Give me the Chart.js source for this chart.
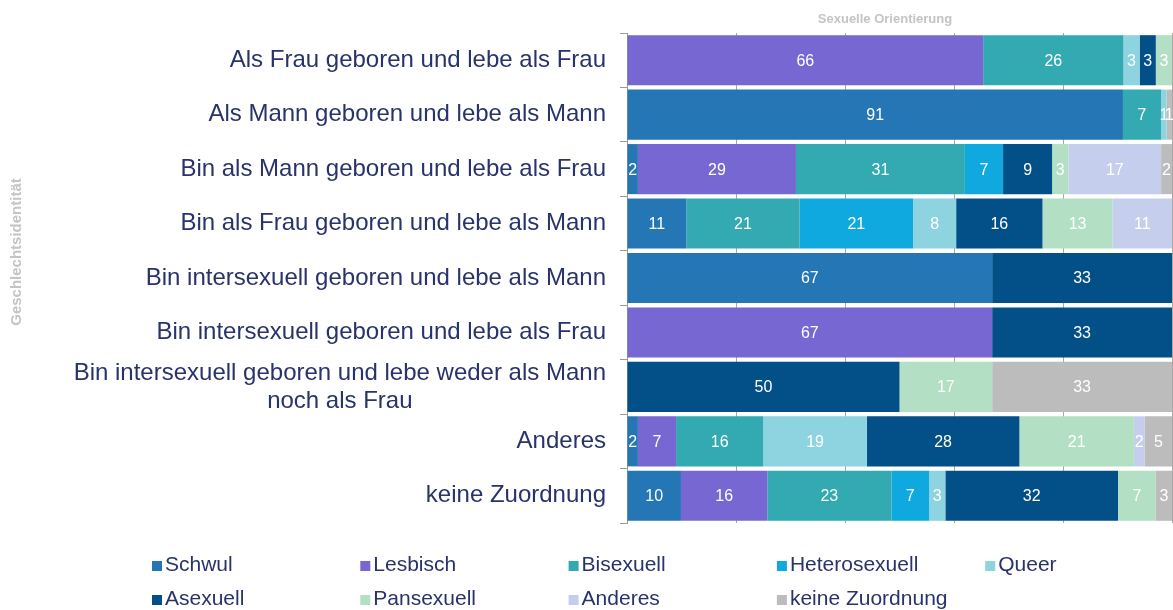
<!DOCTYPE html>
<html>
<head>
<meta charset="utf-8">
<script src="https://cdn.jsdelivr.net/npm/chart.js@4.4.0/dist/chart.umd.min.js"></script>
<style>
  html, body { margin: 0; padding: 0; background: #fff; }
  #wrap { width: 1173px; height: 610px; }
</style>
</head>
<body>
<div id="wrap"><canvas id="orientChart"></canvas></div>
<script>
const categories = [
  "Als Frau geboren und lebe als Frau",
  "Als Mann geboren und lebe als Mann",
  "Bin als Mann geboren und lebe als Frau",
  "Bin als Frau geboren und lebe als Mann",
  "Bin intersexuell geboren und lebe als Mann",
  "Bin intersexuell geboren und lebe als Frau",
  ["Bin intersexuell geboren und lebe weder als Mann", "noch als Frau"],
  "Anderes",
  "keine Zuordnung"
];

const seriesNames = ["Schwul", "Lesbisch", "Bisexuell", "Heterosexuell", "Queer",
  "Asexuell", "Pansexuell", "Anderes", "keine Zuordnung"];

// percentages per row (as printed in the bars)
const schwul        = [0, 91, 2, 11, 67, 0, 0, 2, 10];
const lesbisch      = [66, 0, 29, 0, 0, 67, 0, 7, 16];
const bisexuell     = [26, 7, 31, 21, 0, 0, 0, 16, 23];
const heterosexuell = [0, 0, 7, 21, 0, 0, 0, 0, 7];
const queer         = [3, 1, 0, 8, 0, 0, 0, 19, 3];
const asexuell      = [3, 0, 9, 16, 33, 33, 50, 28, 32];
const pansexuell    = [3, 0, 3, 13, 0, 0, 17, 21, 7];
const anderes       = [0, 0, 17, 11, 0, 0, 0, 2, 0];
const keineZuordnung = [0, 1, 2, 0, 0, 0, 33, 5, 3];

const xTicks = [0, 20, 40, 60, 80, 100];

const series = [schwul, lesbisch, bisexuell, heterosexuell, queer, asexuell, pansexuell, anderes, keineZuordnung];
const colors = ["#2476b4", "#7767d3", "#33aab2", "#0fa9e0", "#8dd3e0", "#034f87", "#b3e0c4", "#c6ceee", "#bcbcbc"];

const navy = "#28336b";
const titleGrey = "#c4c4c4";

// rows are drawn as 100% stacked, so scale each row by its own sum
const rowSums = categories.map((c, j) => series.reduce((s, arr) => s + arr[j], 0));

const datasets = series.map((arr, i) => ({
  label: seriesNames[i],
  data: arr.map((v, j) => v / rowSums[j] * 100),
  backgroundColor: colors[i],
  borderWidth: 0,
  barPercentage: 0.92,
  categoryPercentage: 1.0,
}));

const segmentLabels = {
  id: "segmentLabels",
  afterDatasetsDraw(chart) {
    const ctx = chart.ctx;
    const area = chart.chartArea;
    ctx.save();
    ctx.font = "16px 'Liberation Sans', Arial, sans-serif";
    ctx.fillStyle = "#ffffff";
    ctx.textAlign = "center";
    ctx.textBaseline = "middle";
    chart.data.datasets.forEach((ds, i) => {
      const meta = chart.getDatasetMeta(i);
      meta.data.forEach((bar, j) => {
        const v = series[i][j];
        if (!v) return;
        const p = bar.getProps(["x", "y", "base"], true);
        const cx = (Math.min(p.x, area.right) + p.base) / 2;
        ctx.fillText(String(v), cx, p.y + 1);
      });
    });
    ctx.restore();
  }
};

const sideText = {
  id: "sideText",
  afterDraw(chart) {
    const ctx = chart.ctx;
    const yScale = chart.scales.y;
    const area = chart.chartArea;
    ctx.save();

    // category labels
    ctx.font = "24px 'Liberation Sans', Arial, sans-serif";
    ctx.fillStyle = navy;
    ctx.textBaseline = "middle";
    const rightEdge = area.left - 21;
    categories.forEach((label, j) => {
      const y = yScale.getPixelForValue(j);
      if (Array.isArray(label)) {
        const widest = Math.max(...label.map(l => ctx.measureText(l).width));
        const cx = rightEdge - widest / 2;
        const lh = 28;
        const y0 = y - lh * (label.length - 1) / 2;
        ctx.textAlign = "center";
        label.forEach((l, k) => ctx.fillText(l, cx, y0 + k * lh));
      } else {
        ctx.textAlign = "right";
        ctx.fillText(label, rightEdge, y);
      }
    });

    // axis titles
    ctx.font = "bold 13px 'Liberation Sans', Arial, sans-serif";
    ctx.fillStyle = titleGrey;
    ctx.textAlign = "center";
    ctx.fillText("Sexuelle Orientierung", 885, 19);
    ctx.font = "bold 15px 'Liberation Sans', Arial, sans-serif";
    ctx.save();
    ctx.translate(17, 252);
    ctx.rotate(-Math.PI / 2);
    ctx.fillText("Geschlechtsidentität", 0, 0);
    ctx.restore();

    // legend, five fixed columns
    ctx.font = "21px 'Liberation Sans', Arial, sans-serif";
    ctx.textAlign = "left";
    seriesNames.forEach((name, i) => {
      const col = i % 5;
      const row = Math.floor(i / 5);
      const x = 152 + col * 208.3;
      const y = 565 + row * 34;
      ctx.fillStyle = colors[i];
      ctx.fillRect(x, y - 4, 10, 10);
      ctx.fillStyle = navy;
      ctx.fillText(name, x + 13, y);
    });
    ctx.restore();
  }
};

new Chart(document.getElementById("orientChart"), {
  type: "bar",
  data: { labels: categories, datasets: datasets },
  options: {
    indexAxis: "y",
    responsive: true,
    maintainAspectRatio: false,
    animation: false,
    layout: { padding: { left: 0, right: 1, top: 0, bottom: 87 } },
    scales: {
      x: {
        position: "top",
        stacked: true,
        min: xTicks[0],
        max: xTicks[xTicks.length - 1],
        afterBuildTicks: s => { s.ticks = xTicks.map(v => ({ value: v })); },
        ticks: { display: false },
        grid: { color: "#a8a8a8", drawTicks: false },
        border: { display: false },
        afterFit: s => { s.height = 33; },
      },
      y: {
        stacked: true,
        ticks: { display: false },
        grid: { drawOnChartArea: false, drawTicks: true, tickLength: 7, color: "#9a9a9a", offset: true },
        border: { display: true, color: "#9a9a9a" },
        afterFit: s => { s.width = 627; },
      },
    },
    plugins: {
      legend: { display: false },
      tooltip: { enabled: false },
    },
  },
  plugins: [segmentLabels, sideText],
});
</script>
</body>
</html>
